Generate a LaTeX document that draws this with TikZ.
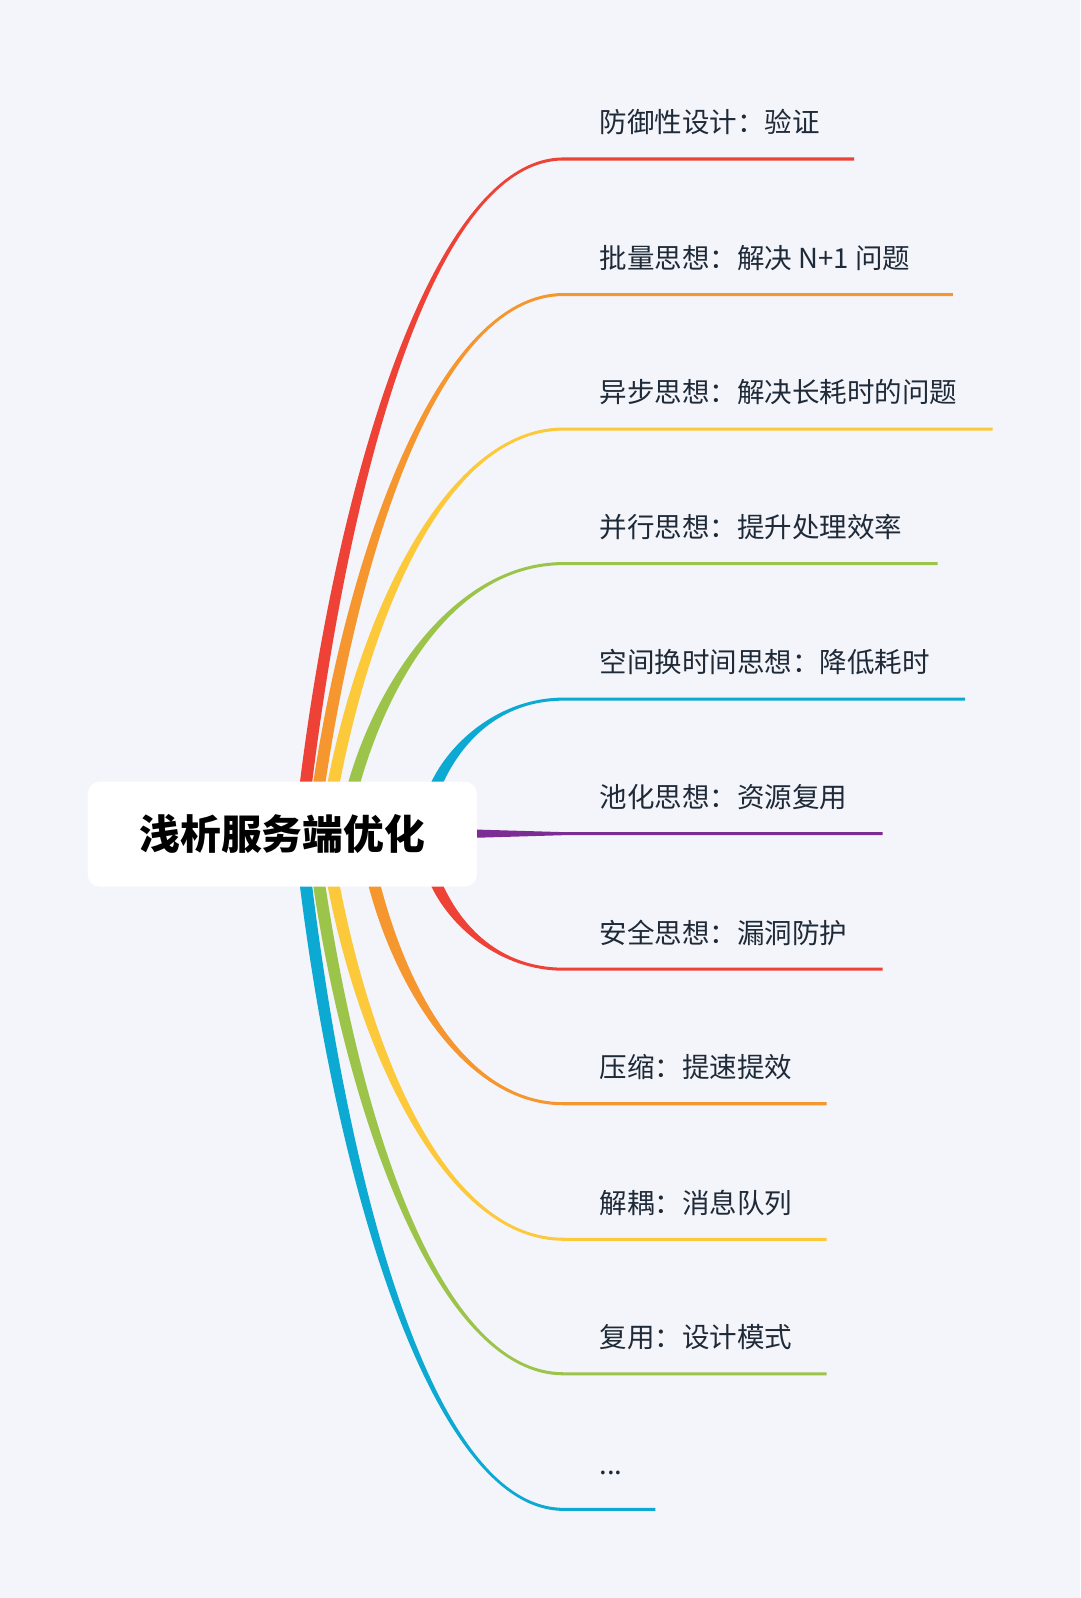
\documentclass[tikz,border=0pt]{standalone}
\usepackage{fontspec}
\setmainfont{Noto Sans CJK SC}
\definecolor{bg}{HTML}{F4F5FA}
\definecolor{cR}{HTML}{EE4237}
\definecolor{cO}{HTML}{F5962E}
\definecolor{cY}{HTML}{FCC93B}
\definecolor{cG}{HTML}{9CC44A}
\definecolor{cC}{HTML}{0CA9D2}
\definecolor{cP}{HTML}{7B2D94}
\definecolor{tx}{HTML}{1F2A38}
\newcommand\mybranch[8]{%
 % #1 name #2 color #3 sx #4 sy #5 ly #6 xend #7 text #8 sign (-1 up, 1 down)
 \coordinate (#1s) at (#3,#4);
 \coordinate (#1e) at (553,#5);
 \fill[#2] ({#3-6},#4) .. controls ({#3-6+0.15*(553-#3)},{(#4+#5)/2}) and ({#3+0.5*(553-#3)},{#5+1.5*#8}) .. (553,{#5+1.5*#8})
   -- (#6,{#5+1.5*#8}) -- (#6,{#5-1.5*#8}) -- (553,{#5-1.5*#8})
   .. controls ({#3+0.5*(553-#3)},{#5-1.5*#8}) and ({#3+6+0.15*(553-#3)},{(#4+#5)/2}) .. ({#3+6},#4) -- cycle;
 \node[lbl] (#1t) at (588,{#5-36}) {#7};
}
\begin{document}
\begin{tikzpicture}[x=0.5pt,y=-0.5pt,lbl/.style={anchor=west,inner sep=0,text=tx,font=\fontsize{13.5}{15}\selectfont}]
\fill[bg] (0,0) rectangle (1060,1568);
\useasboundingbox (0,0) rectangle (1060,1568);
\mybranch{a}{cR}{300}{770}{156}{838}{防御性设计：验证}{-1}
\mybranch{b}{cO}{313}{770}{289}{935}{批量思想：解决 N+1 问题}{-1}
\mybranch{c}{cY}{327}{770}{421}{974}{异步思想：解决长耗时的问题}{-1}
\mybranch{d}{cG}{347}{770}{553}{920}{并行思想：提升处理效率}{-1}
\mybranch{e}{cC}{428}{770}{686}{947}{空间换时间思想：降低耗时}{-1}
\coordinate (fs) at (468,818);
\coordinate (fe) at (553,818);
\fill[cP] (468,814) -- (553,816.5) -- (866,816.5) -- (866,819.5) -- (553,819.5) -- (468,822) -- cycle;
\node[lbl] (ft) at (588,782) {池化思想：资源复用};
\mybranch{g}{cR}{428}{867}{951}{866}{安全思想：漏洞防护}{1}
\mybranch{h}{cO}{367}{867}{1083}{811}{压缩：提速提效}{1}
\mybranch{i}{cY}{327}{867}{1216}{811}{解耦：消息队列}{1}
\mybranch{j}{cG}{313}{867}{1348}{811}{复用：设计模式}{1}
\mybranch{k}{cC}{300}{867}{1481}{643}{...}{1}
\node[fill=white,rounded corners=6pt,minimum width=191pt,minimum height=51.5pt,font=\fontsize{20}{24}\selectfont\bfseries,text=black] (root) at (277,818.5) {浅析服务端优化};
\end{tikzpicture}
\end{document}
